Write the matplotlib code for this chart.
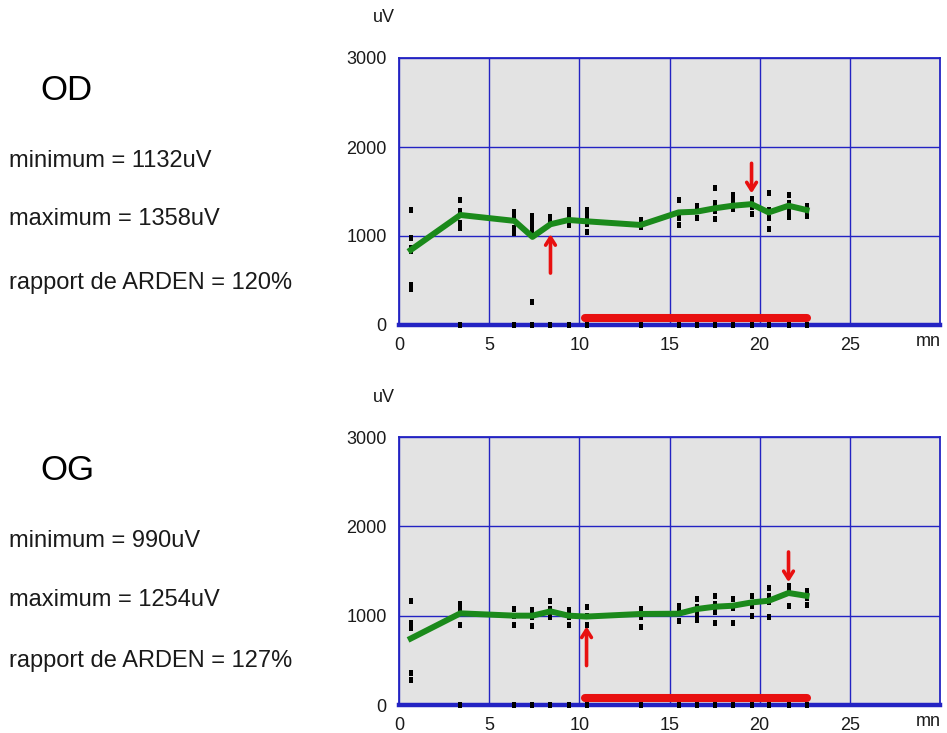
import matplotlib
matplotlib.use("Agg")
import matplotlib.pyplot as plt

plt.rcParams['font.family'] = ['Liberation Sans', 'DejaVu Sans']

# Recording times (minutes)
times = [0.65, 3.4, 6.4, 7.4, 8.4, 9.4, 10.4, 13.4, 15.5, 16.5, 17.5, 18.5, 19.55, 20.5, 21.6, 22.6]

# Right eye (OD): averaged curve and individual measurements
od_curve = [843, 1236, 1170, 990, 1132, 1180, 1165, 1124, 1265, 1273, 1311, 1340, 1358, 1265, 1340, 1292]
od_points = [
    [1292, 980, 870, 830, 450, 410],
    [1400, 1280, 1240, 1150, 1090, 0],
    [1270, 1200, 1090, 1030, 0],
    [1220, 1160, 1100, 1060, 258, 0],
    [1210, 1150, 0],
    [1290, 1250, 1180, 1120, 0],
    [1290, 1230, 1140, 1040, 0],
    [1180, 1100, 0],
    [1400, 1230, 1200, 1120, 0],
    [1340, 1280, 1200, 0],
    [1540, 1370, 1280, 1190, 0],
    [1460, 1390, 1300, 0],
    [1420, 1330, 1250, 0],
    [1480, 1290, 1200, 1080, 0],
    [1460, 1370, 1280, 1210, 0],
    [1340, 1280, 1220, 0],
]
od_min_t, od_max_t = 8.4, 19.55

# Left eye (OG)
og_curve = [744, 1026, 1000, 1000, 1048, 1000, 990, 1019, 1022, 1074, 1100, 1111, 1148, 1167, 1254, 1222]
og_points = [
    [1167, 920, 860, 360, 280],
    [1130, 1060, 890, 0],
    [1080, 1000, 900, 0],
    [1060, 980, 880, 0],
    [1160, 1080, 980, 0],
    [1060, 980, 900, 0],
    [1100, 1000, 890, 0],
    [1070, 990, 870, 0],
    [1110, 1040, 940, 0],
    [1190, 1100, 1020, 950, 0],
    [1220, 1130, 1040, 915, 0],
    [1190, 1090, 915, 0],
    [1220, 1110, 1000, 0],
    [1310, 1220, 1150, 990, 0],
    [1330, 1260, 1110, 0],
    [1280, 1200, 1120, 0],
]
og_min_t, og_max_t = 10.4, 21.6

# Light-adapted period
light_start, light_end = 10.3, 22.6

eyes = [
    ("OD", od_curve, od_points, od_min_t, od_max_t, 1132, 1358, 120),
    ("OG", og_curve, og_points, og_min_t, og_max_t, 990, 1254, 127),
]

x_ticks = [0, 5, 10, 15, 20, 25]
y_ticks = [0, 1000, 2000, 3000]

W, H = 947, 733
fig = plt.figure(figsize=(W / 100, H / 100), dpi=100)
fig.patch.set_facecolor('white')

blue = '#2323c3'
green = '#1b8a1b'
red = '#e81010'

# small vertical dash used for each measurement
dash = [(-1.0, -1.5), (1.0, -1.5), (1.0, 1.5), (-1.0, 1.5), (-1.0, -1.5)]

# axes boxes in pixels: (left, top, right, bottom)
boxes = [(399, 58, 940, 325), (399, 437, 940, 705)]
text_rows = [(90, 161, 219, 283), (470, 541, 600, 661)]

def fx(px):
    return px / W

def fy(py):
    return 1 - py / H

for (name, curve, pts, tmin, tmax, vmin, vmax, ratio), box, rows in zip(eyes, boxes, text_rows):
    l, t, r, b = box
    ax = fig.add_axes([fx(l), fy(b), fx(r) - fx(l), fy(t) - fy(b)])
    ax.set_facecolor('#e3e3e3')
    ax.set_xlim(0, 30)
    ax.set_ylim(0, 3000)
    ax.set_xticks(x_ticks)
    ax.set_yticks(y_ticks)
    ax.tick_params(length=0, labelsize=13, pad=9, colors='#1a1a1a')
    ax.grid(True, color=blue, linewidth=1.0)
    ax.set_axisbelow(True)
    for side in ('left', 'top', 'right'):
        ax.spines[side].set_color(blue)
        ax.spines[side].set_linewidth(1.3)
    ax.spines['bottom'].set_color(blue)
    ax.spines['bottom'].set_linewidth(3.2)

    # individual measurements
    for tt, vals in zip(times, pts):
        ax.plot([tt] * len(vals), vals, linestyle='none', marker=dash,
                markersize=4.5, markeredgewidth=0, color='black',
                clip_on=False, zorder=3)

    # averaged curve
    ax.plot(times, curve, color=green, linewidth=4.3, zorder=4,
            solid_joinstyle='round')

    # light period bar
    ax.plot([light_start, light_end], [80, 80], color=red, linewidth=5.8,
            solid_capstyle='round', zorder=5)

    # minimum / maximum arrows
    style = '->,head_length=0.55,head_width=0.35'
    ax.annotate('', xy=(tmin, vmin - 80), xytext=(tmin, vmin - 580),
                arrowprops=dict(arrowstyle=style, color=red, lw=2.6), zorder=6)
    ax.annotate('', xy=(tmax, vmax + 90), xytext=(tmax, vmax + 490),
                arrowprops=dict(arrowstyle=style, color=red, lw=2.6), zorder=6)

    # axis unit labels
    fig.text(fx(384), fy(t - 40), 'uV', fontsize=13, ha='center', va='center',
             color='#1a1a1a')
    fig.text(fx(928), fy(b + 16), 'mn', fontsize=13, ha='center', va='center',
             color='#1a1a1a')

    # summary text
    y0, y1, y2, y3 = rows
    fig.text(fx(40), fy(y0), name, fontsize=25, ha='left', va='center', color='black')
    fig.text(fx(9), fy(y1), f'minimum = {vmin}uV', fontsize=17, ha='left',
             va='center', color='#1a1a1a')
    fig.text(fx(9), fy(y2), f'maximum = {vmax}uV', fontsize=17, ha='left',
             va='center', color='#1a1a1a')
    fig.text(fx(9), fy(y3), f'rapport de ARDEN = {ratio}%', fontsize=17,
             ha='left', va='center', color='#1a1a1a')

fig.savefig('out.png', dpi=100)
